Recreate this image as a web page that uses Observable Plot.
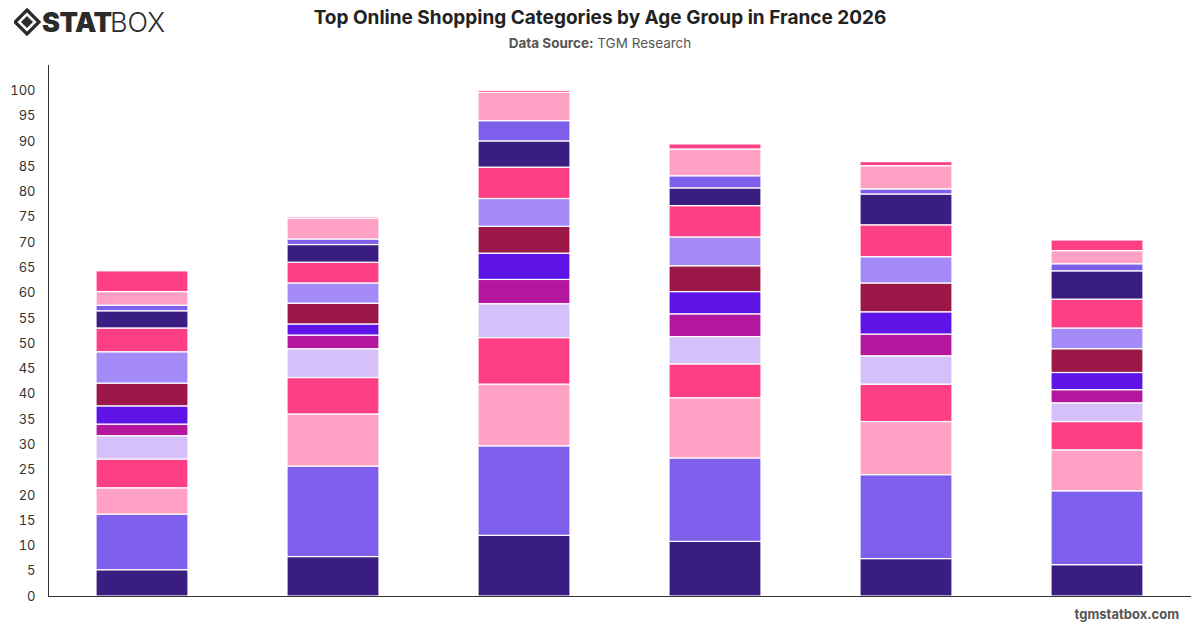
<!DOCTYPE html>
<html>
<head>
<meta charset="utf-8">
<script src="https://cdn.jsdelivr.net/npm/d3@7"></script>
<script src="https://cdn.jsdelivr.net/npm/@observablehq/plot@0.6"></script>
<style>
  html, body { margin: 0; padding: 0; background: #fff; font-family: Inter, "Noto Sans", sans-serif; }
  #wrap { position: relative; width: 1200px; height: 628px; overflow: hidden; }
  #header { position: absolute; left: 0; top: 0; width: 1200px; height: 55px; }
  #title { position: absolute; top: 6px; width: 100%; text-align: center; font-size: 19px; font-weight: 700; color: #222; }
  #subtitle { position: absolute; top: 35px; width: 100%; text-align: center; font-size: 13.5px; color: #555; }
  #subtitle b { font-weight: 700; color: #555; }
  #logo { position: absolute; left: 14px; top: 5px; }
  #chart { position: absolute; left: 0; top: 55px; }
  #footer { position: absolute; right: 21px; top: 606px; font-size: 13px; font-weight: 700; color: #555; }
</style>
</head>
<body>
<div id="wrap">
  <div id="header">
    <svg id="logo" width="165" height="34" viewBox="0 0 165 34">
      <g transform="translate(13,17)">
        <path d="M0,-12 L12,0 L0,12 L-12,0 Z" fill="none" stroke="#2b2b2b" stroke-width="3.2"/>
        <path d="M0,-6 L6,0 L0,6 L-6,0 Z" fill="#2b2b2b"/>
      </g>
      <text x="28" y="27" font-family="Inter, sans-serif" font-size="27" font-weight="900" fill="#2b2b2b" letter-spacing="-0.5">STAT</text>
      <text x="96" y="27" font-family="Inter, sans-serif" font-size="27" font-weight="300" fill="#2b2b2b">BOX</text>
    </svg>
    <div id="title">Top Online Shopping Categories by Age Group in France 2026</div>
    <div id="subtitle"><b>Data Source:</b> TGM Research</div>
  </div>
  <div id="chart"></div>
  <div id="footer">tgmstatbox.com</div>
</div>
<script>
// Age groups (x categories, not labelled in the reference)
const ageGroups = ["18-24", "25-34", "35-44", "45-54", "55-64", "65+"];

// Shopping categories, stacked bottom to top
const categories = [
  "Fashion & Apparel", "Electronics", "Beauty & Personal Care", "Home & Garden",
  "Groceries", "Books & Media", "Sports & Outdoors", "Toys & Games",
  "Health & Wellness", "Travel", "Food Delivery", "Pet Supplies",
  "Jewelry & Accessories", "Automotive"
];

// Share (%) per category, one array per age group (same order as categories)
const age18_24 = [5.2, 11.0, 5.2, 5.7, 4.6, 2.3, 3.6, 4.5, 6.2, 4.7, 3.4, 1.1, 2.7, 4.1];
const age25_34 = [7.8, 17.9, 10.3, 7.2, 5.7, 2.7, 2.2, 4.1, 4.0, 4.1, 3.5, 1.1, 4.1, 0.3];
const age35_44 = [12.0, 17.7, 12.2, 9.2, 6.7, 4.8, 5.2, 5.3, 5.5, 6.2, 5.2, 4.0, 5.6, 0.4];
const age45_54 = [10.8, 16.5, 11.9, 6.7, 5.4, 4.5, 4.4, 5.1, 5.7, 6.2, 3.5, 2.4, 5.3, 1.0];
const age55_64 = [7.4, 16.6, 10.5, 7.4, 5.6, 4.3, 4.4, 5.7, 5.2, 6.3, 6.1, 1.0, 4.6, 0.8];
const age65plus = [6.2, 14.6, 8.1, 5.6, 3.7, 2.6, 3.4, 4.7, 4.1, 5.7, 5.6, 1.4, 2.6, 2.1];

const seriesByAge = [age18_24, age25_34, age35_44, age45_54, age55_64, age65plus];

// Colour palette (repeats after ten, as in the reference)
const palette = [
  "#3a1d80", "#7e5fec", "#ffa1c4", "#ff3f85", "#d6c0fa",
  "#b4179e", "#5e14e6", "#9b1747", "#a58bf8", "#ff3f85",
  "#3a1d80", "#7e5fec", "#ffa1c4", "#ff3f85"
];

const yTicks = d3.range(0, 101, 5);

const data = [];
ageGroups.forEach((age, i) => {
  categories.forEach((cat, j) => {
    data.push({age, category: cat, value: seriesByAge[i][j]});
  });
});

const chart = Plot.plot({
  width: 1200,
  height: 551,
  marginTop: 10,
  marginBottom: 10,
  marginLeft: 48,
  marginRight: 9,
  style: {fontFamily: "Inter, sans-serif", fontSize: "13px", color: "#333", background: "transparent"},
  x: {domain: ageGroups, axis: null, paddingInner: 0.52, paddingOuter: 0.25},
  y: {domain: [0, 105], axis: null},
  color: {domain: categories, range: palette},
  marks: [
    Plot.barY(data, {
      x: "age", y: "value", fill: "category",
      stroke: "#fff", strokeWidth: 1.2,
      order: categories
    }),
    Plot.axisY({ticks: yTicks, tickSize: 0, tickPadding: 13, fontSize: 13, fill: "#333", label: null}),
    Plot.frame({anchor: "left", stroke: "#333"}),
    Plot.ruleY([0], {stroke: "#333"})
  ]
});

document.getElementById("chart").appendChild(chart);
</script>
</body>
</html>
